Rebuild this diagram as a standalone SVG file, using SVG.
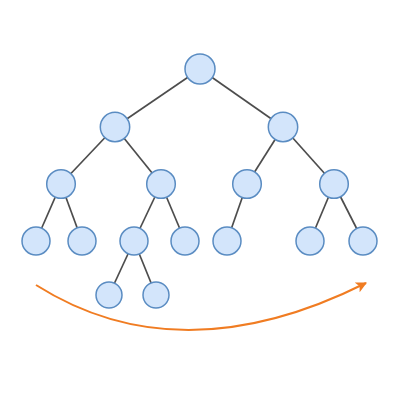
<svg xmlns="http://www.w3.org/2000/svg" width="400" height="400" viewBox="0 0 400 400">
<defs>
<style>
.n{fill:#d3e5fb;stroke:#5a8cc2;stroke-width:1.5}
.e{stroke:#4d4d4d;stroke-width:1.7;fill:none}
.a{stroke:#f07c22;stroke-width:2;fill:none}
</style>
<marker id="ah" viewBox="0 0 10 10" refX="9" refY="5" markerWidth="5.5" markerHeight="5.5" orient="auto" markerUnits="strokeWidth">
<path d="M0,0 L10,5 L0,10 L2.5,5 z" fill="#f07c22"/>
</marker>
</defs>
<rect width="400" height="400" fill="#fff"/>
<g id="edges">
<line class="e" x1="200" y1="69" x2="115" y2="127"/>
<line class="e" x1="200" y1="69" x2="283" y2="127"/>
<line class="e" x1="115" y1="127" x2="61" y2="184"/>
<line class="e" x1="115" y1="127" x2="161" y2="184"/>
<line class="e" x1="283" y1="127" x2="247" y2="184"/>
<line class="e" x1="283" y1="127" x2="334" y2="184"/>
<line class="e" x1="61" y1="184" x2="36" y2="241"/>
<line class="e" x1="61" y1="184" x2="82" y2="241"/>
<line class="e" x1="161" y1="184" x2="134" y2="241"/>
<line class="e" x1="161" y1="184" x2="185" y2="241"/>
<line class="e" x1="247" y1="184" x2="227" y2="241"/>
<line class="e" x1="334" y1="184" x2="310" y2="241"/>
<line class="e" x1="334" y1="184" x2="363" y2="241"/>
<line class="e" x1="134" y1="241" x2="109" y2="295"/>
<line class="e" x1="134" y1="241" x2="156" y2="295"/>
<path class="a" d="M36,285 Q180,376 366,283" marker-end="url(#ah)"/>
</g>
<g id="n0"><circle class="n" cx="200" cy="69" r="15"/></g>
<g id="n1"><circle class="n" cx="115" cy="127" r="14.7"/></g>
<g id="n2"><circle class="n" cx="283" cy="127" r="14.7"/></g>
<g id="n3"><circle class="n" cx="61" cy="184" r="14.3"/></g>
<g id="n4"><circle class="n" cx="161" cy="184" r="14.3"/></g>
<g id="n5"><circle class="n" cx="247" cy="184" r="14.3"/></g>
<g id="n6"><circle class="n" cx="334" cy="184" r="14.3"/></g>
<g id="n7"><circle class="n" cx="36" cy="241" r="14"/></g>
<g id="n8"><circle class="n" cx="82" cy="241" r="14"/></g>
<g id="n9"><circle class="n" cx="134" cy="241" r="14"/></g>
<g id="n10"><circle class="n" cx="185" cy="241" r="14"/></g>
<g id="n11"><circle class="n" cx="227" cy="241" r="14"/></g>
<g id="n12"><circle class="n" cx="310" cy="241" r="14"/></g>
<g id="n13"><circle class="n" cx="363" cy="241" r="14"/></g>
<g id="n14"><circle class="n" cx="109" cy="295" r="13"/></g>
<g id="n15"><circle class="n" cx="156" cy="295" r="13"/></g>
</svg>
